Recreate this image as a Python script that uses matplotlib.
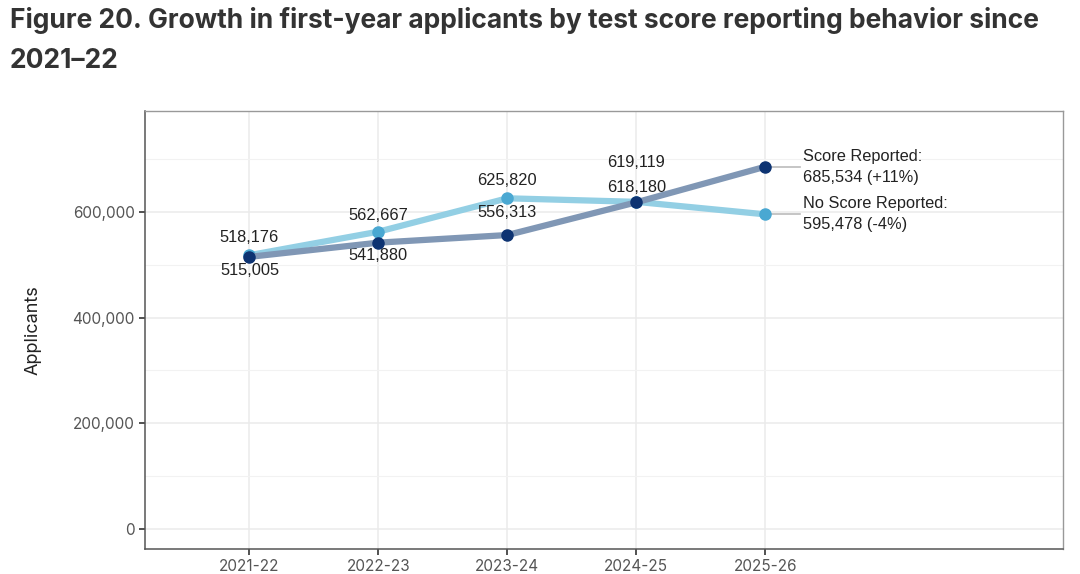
import matplotlib
matplotlib.use("Agg")
import matplotlib.pyplot as plt
from matplotlib.ticker import FuncFormatter, MultipleLocator

years = ["2021-22", "2022-23", "2023-24", "2024-25", "2025-26"]
no_score = [518176, 562667, 625820, 619119, 595478]
score = [515005, 541880, 556313, 618180, 685534]
end_labels = ["No Score Reported:\n595,478 (-4%)", "Score Reported:\n685,534 (+11%)"]
yticks = [0, 200000, 400000, 600000]

# label offsets (points) for each point label
no_score_off = [13, 12, 13, 28, 0]
score_off = [-10, -9, 16, 11, 0]

fig = plt.figure(figsize=(10.8, 5.74), dpi=100)
fig.patch.set_facecolor("white")
ax = fig.add_axes([0.1343, 0.0436, 0.8500, 0.7630])

x = list(range(len(years)))
light_line = "#93cfe4"
light_pt = "#4aa8d2"
dark_line = "#8097b5"
dark_pt = "#0d3372"

ax.plot(x, no_score, color=light_line, lw=4.5, solid_capstyle="round", zorder=3)
ax.plot(x, no_score, "o", color=light_pt, ms=8, zorder=4)
ax.plot(x, score, color=dark_line, lw=4.5, solid_capstyle="round", zorder=5)
ax.plot(x, score, "o", color=dark_pt, ms=8, zorder=6)

lab_font = dict(family="Liberation Sans", fontsize=11.8, color="#222222")
for i in range(len(years) - 1):
    ax.annotate(f"{no_score[i]:,}", (x[i], no_score[i]), xytext=(0, no_score_off[i]),
                textcoords="offset points", ha="center", va="center", **lab_font)
    ax.annotate(f"{score[i]:,}", (x[i], score[i]), xytext=(0, score_off[i]),
                textcoords="offset points", ha="center", va="center", **lab_font)

last = len(years) - 1
for val, txt in zip([no_score[last], score[last]], end_labels):
    ax.plot([x[last] + 0.04, x[last] + 0.27], [val, val], color="#bbbbbb", lw=1.2, zorder=2)
    ax.text(x[last] + 0.295, val, txt, ha="left", va="center", linespacing=1.5, **lab_font)

ax.set_xlim(-0.81, 6.31)
ax.set_ylim(-37800, 791000)
ax.set_xticks(x)
ax.set_xticklabels(years)
ax.set_yticks(yticks)
ax.yaxis.set_minor_locator(MultipleLocator(100000))
ax.yaxis.set_major_formatter(FuncFormatter(lambda v, p: f"{int(v):,}"))
ax.grid(True, which="major", color="#ebebeb", lw=1.1, zorder=0)
ax.grid(True, which="minor", axis="y", color="#f2f2f2", lw=0.8, zorder=0)
ax.set_axisbelow(True)
ax.tick_params(axis="y", which="minor", length=0)
ax.tick_params(axis="both", which="major", length=4, width=1.2, color="#333333",
               labelsize=11, labelcolor="#555555")
for lbl in ax.get_xticklabels() + ax.get_yticklabels():
    lbl.set_family("Inter")
for side in ["left", "bottom"]:
    ax.spines[side].set_color("#555555")
    ax.spines[side].set_linewidth(1.1)
for side in ["top", "right"]:
    ax.spines[side].set_color("#999999")
    ax.spines[side].set_linewidth(1.0)

ax.set_ylabel("Applicants", fontsize=13, family="Inter", color="#222222", labelpad=22)

fig.text(0.009, 0.988, "Figure 20. Growth in first-year applicants by test score reporting behavior since\n2021\u201322",
         ha="left", va="top", fontsize=19, fontweight="bold", family="Inter", color="#333333",
         linespacing=1.7)

fig.savefig("out.png", dpi=100, facecolor="white")
